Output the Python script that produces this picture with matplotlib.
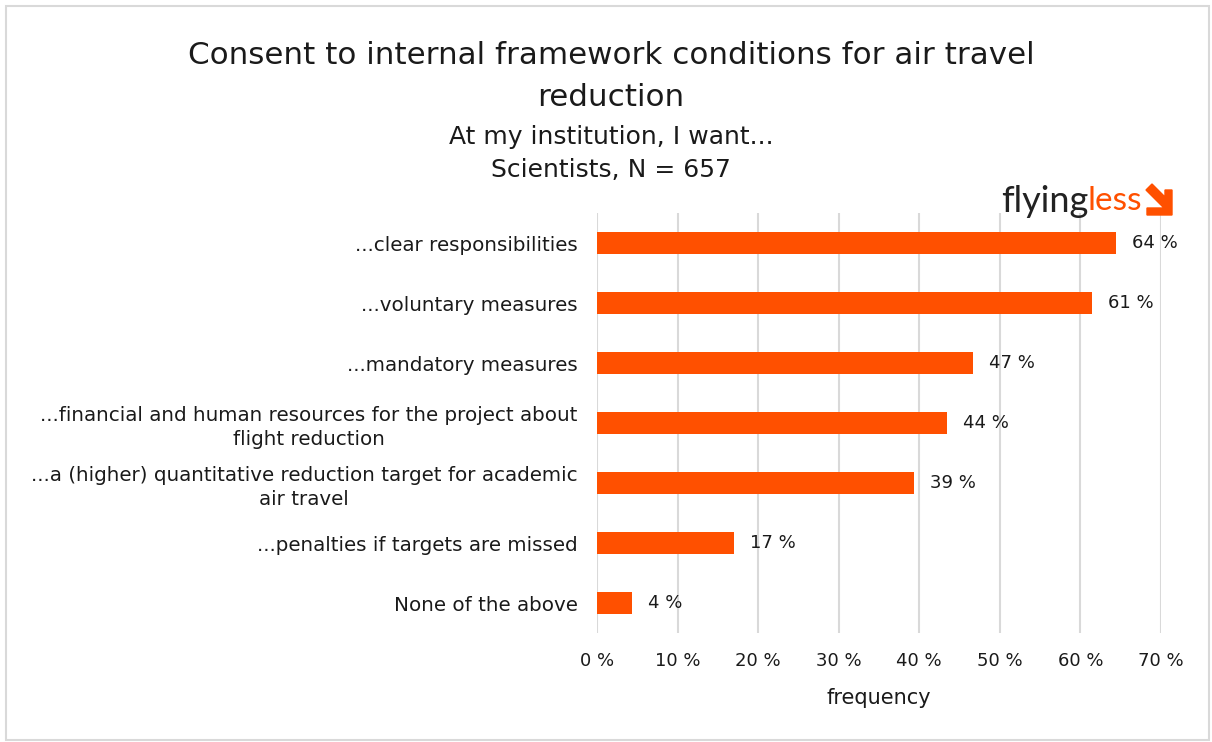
import numpy as np
import matplotlib.pyplot as plt
from matplotlib.patches import Rectangle, Polygon

plt.rcParams['font.family'] = ['DejaVu Sans']

# --- data ---
categories = [
    "...clear responsibilities",
    "...voluntary measures",
    "...mandatory measures",
    "...financial and human resources for the project about\nflight reduction",
    "...a (higher) quantitative reduction target for academic\nair travel",
    "...penalties if targets are missed",
    "None of the above",
]
values = [64.4, 61.4, 46.7, 43.4, 39.3, 17.0, 4.3]
value_labels = ["64 %", "61 %", "47 %", "44 %", "39 %", "17 %", "4 %"]
x_ticks = [0, 10, 20, 30, 40, 50, 60, 70]
x_tick_labels = [f"{t} %" for t in x_ticks]

bar_color = '#FF5000'
text_color = '#1a1a1a'
W, H = 1212, 742

fig = plt.figure(figsize=(W / 100, H / 100), dpi=100)
ax = fig.add_axes([597 / W, 1 - 633 / H, (1161 - 597) / W, (633 - 213) / H])

y = np.arange(len(categories))
ax.barh(y, values, height=0.37, color=bar_color, zorder=3)
for yi, v, lab in zip(y, values, value_labels):
    ax.text(v + 2.0, yi, lab, va='center', ha='left', fontsize=13, color=text_color)

ax.set_ylim(len(categories) - 0.5, -0.5)
ax.set_xlim(0, 70)
ax.set_yticks(y)
ax.set_yticklabels(categories, fontsize=14.3, color=text_color, multialignment='center',
                   linespacing=1.35)
ax.set_xticks(x_ticks)
ax.set_xticklabels(x_tick_labels, fontsize=13, color=text_color)
ax.tick_params(length=0, pad=14, axis='y')
ax.tick_params(length=0, pad=14, axis='x')
ax.grid(axis='x', color='#d9d9d9', linewidth=1.5, zorder=0)
for s in ax.spines.values():
    s.set_visible(False)
ax.set_xlabel('frequency', fontsize=15, color=text_color, labelpad=13)

# titles
fig.text(611 / W, 1 - 55 / H, 'Consent to internal framework conditions for air travel',
         ha='center', va='center', fontsize=22.3, color=text_color)
fig.text(611 / W, 1 - 97 / H, 'reduction',
         ha='center', va='center', fontsize=22.3, color=text_color)
fig.text(611 / W, 1 - 137 / H, 'At my institution, I want...', ha='center', va='center',
         fontsize=18, color=text_color)
fig.text(611 / W, 1 - 170 / H, 'Scientists, N = 657', ha='center', va='center',
         fontsize=18, color=text_color)

# logo
fig.text(1088 / W, 1 - 201 / H, 'flying', ha='right', va='center', fontsize=26,
         color='#222222', family='Lato')
fig.text(1087 / W, 1 - 201 / H, 'less', ha='left', va='center', fontsize=24,
         color=bar_color, family='Lato')
arrow_pts = [(1152, 184), (1165, 197), (1165, 190), (1172, 190), (1172, 215),
             (1147, 215), (1147, 208), (1164, 208), (1146, 190)]
arrow = Polygon([(px, H - py) for px, py in arrow_pts], closed=True, transform=None,
                color=bar_color)
fig.patches.append(arrow)

# outer border
fig.patches.append(Rectangle((6 / W, 2 / H), 1203 / W, 734 / H, transform=fig.transFigure,
                             fill=False, edgecolor='#d9d9d9', linewidth=1.5))

fig.savefig('out.png', dpi=100)
